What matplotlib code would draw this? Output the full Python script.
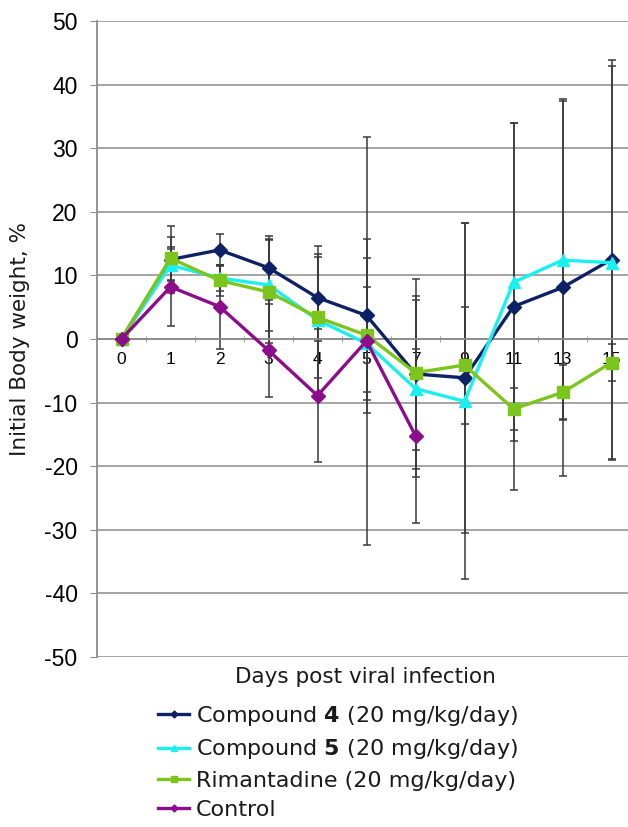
import matplotlib
matplotlib.use("Agg")
import matplotlib.pyplot as plt
import numpy as np

# data
days = ["0", "1", "2", "3", "4", "5", "7", "9", "11", "13", "15"]

compound4 = [0, 12.5, 14.0, 11.2, 6.5, 3.7, -5.5, -6.1, 5.1, 8.1, 12.5]
compound4_err = [0, 5.2, 2.5, 5.0, 6.8, 12.1, 14.9, 24.4, 28.9, 29.6, 31.3]

compound5 = [0, 11.6, 9.6, 8.5, 3.0, -0.7, -7.8, -9.8, 8.9, 12.4, 12.0]
compound5_err = [0, 2.5, 2.0, 7.3, 11.7, 8.9, 13.9, 28.0, 25.0, 25.0, 31.0]

rimantadine = [0, 12.7, 9.2, 7.4, 3.4, 0.6, -5.3, -4.1, -11.0, -8.4, -3.7]
rimantadine_err = [0, 3.4, 2.5, 8.1, 9.5, 12.2, 12.1, 9.2, 3.3, 4.3, 2.9]

control = [0, 8.2, 5.1, -1.8, -8.9, -0.3, -15.2]
control_err = [0, 6.2, 6.6, 7.3, 10.5, 32.1, 13.7]

labels = [
    "Compound $\\mathbf{4}$ (20 mg/kg/day)",
    "Compound $\\mathbf{5}$ (20 mg/kg/day)",
    "Rimantadine (20 mg/kg/day)",
    "Control",
]

plt.rcParams["font.family"] = ["DejaVu Sans"]
plt.rcParams["mathtext.fontset"] = "dejavusans"
plt.rcParams["axes.unicode_minus"] = False
plt.rcParams["text.color"] = "#1a1a1a"

fig = plt.figure(figsize=(6.28, 8.27), dpi=100)
ax = fig.add_axes([97 / 628, 170 / 827, 539 / 628, 636 / 827])

x = np.arange(len(days))
series = [
    (compound4, compound4_err, "#0d2266", "D", 7),
    (compound5, compound5_err, "#19f0f0", "^", 9),
    (rimantadine, rimantadine_err, "#7cc51c", "s", 9),
    (control, control_err, "#8c0c8c", "D", 7),
]

handles = []
for (vals, err, color, marker, ms), lab in zip(series, labels):
    xs = x[:len(vals)]
    ax.errorbar(xs, vals, yerr=err, fmt="none", ecolor="#3a3a3a",
                elinewidth=1.1, capsize=3, capthick=1.1, zorder=2)
    h, = ax.plot(xs, vals, color=color, marker=marker, markersize=ms,
                 linewidth=2.4, zorder=3, label=lab)
    handles.append(h)

ax.set_xlim(-0.5, len(days) - 0.5)
ax.set_ylim(-50, 50)
ax.set_yticks(np.arange(-50, 51, 10))
ax.grid(axis="y", color="#8c8c8c", linewidth=1.1)
ax.set_axisbelow(True)

for s in ["top", "right"]:
    ax.spines[s].set_visible(False)
ax.spines["left"].set_color("#8c8c8c")
ax.spines["left"].set_linewidth(1.3)
ax.spines["bottom"].set_position(("data", 0))
ax.spines["bottom"].set_color("#8c8c8c")
ax.spines["bottom"].set_linewidth(1.3)

ax.set_xticks(x)
ax.set_xticklabels(days, fontsize=12.5, fontfamily=["Liberation Sans"])
ax.set_xticks(np.arange(-0.5, len(days), 1), minor=True)
ax.tick_params(axis="x", which="major", length=0, pad=9)
ax.tick_params(axis="x", which="minor", length=5, color="#8c8c8c", direction="inout")
ax.tick_params(axis="y", length=5, color="#8c8c8c", labelsize=16.5, pad=9)
for t in ax.get_yticklabels():
    t.set_fontfamily(["Liberation Sans"])

fig.text(365 / 628, 1 - 677 / 827, "Days post viral infection", ha="center", va="center", fontsize=15.5)
fig.text(20 / 628, 1 - 339 / 827, "Initial Body weight, %", ha="center", va="center",
         rotation=90, fontsize=15.5)

fig.legend(handles=handles, loc="upper left", bbox_to_anchor=(158 / 628, 1 - 704 / 827),
           frameon=False, fontsize=16, handlelength=1.4, handletextpad=0.3,
           labelspacing=0.42, markerscale=0.5, borderpad=0, borderaxespad=0)

fig.savefig("out.png", dpi=100)
